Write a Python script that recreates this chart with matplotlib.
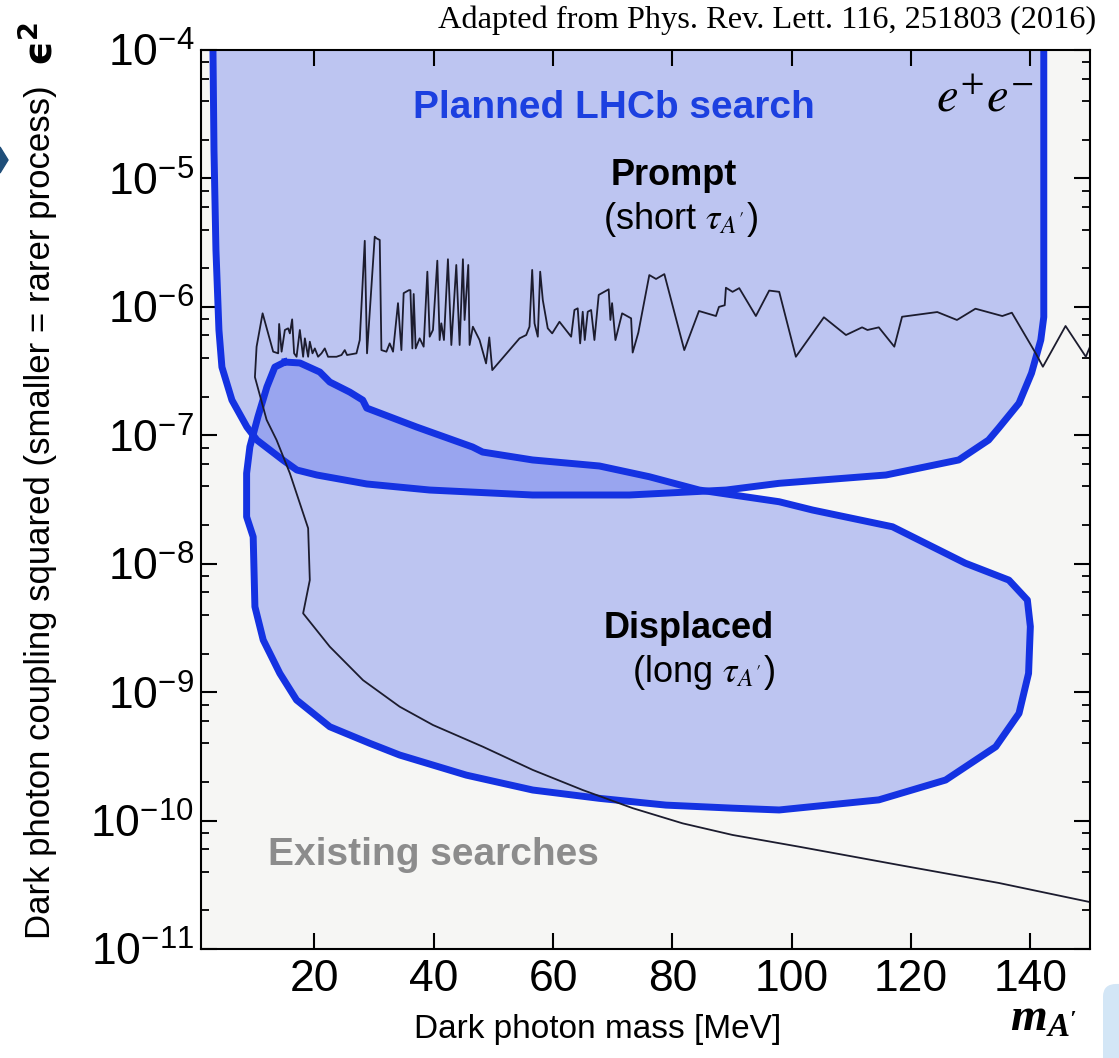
import matplotlib
matplotlib.use('Agg')
import matplotlib.pyplot as plt
from matplotlib import font_manager as fm
from matplotlib.patches import Polygon, FancyBboxPatch
from matplotlib.ticker import LogLocator, NullFormatter, NullLocator, FixedLocator, LogFormatterSciNotation


def has_font(name):
    try:
        fm.findfont(fm.FontProperties(family=name), fallback_to_default=False)
        return True
    except Exception:
        return False


SANS = 'Liberation Sans'
TICKFONT = 'Liberation Sans Narrow' if has_font('Liberation Sans Narrow') else SANS
SERIF = 'Liberation Serif'

# ---------------- data ----------------
# Existing searches boundary (lower beam-dump curve, then prompt-search limits)
existing_mass = [150.0, 134.7, 118.0, 101.25, 90.09, 81.72, 73.35, 64.98, 56.61, 48.25,
                 39.88, 34.30, 28.16, 22.59, 18.12, 19.24, 18.96, 15.90, 13.67, 12.0,
                 10.04, 10.32, 11.33, 12.26, 13.10, 13.94, 14.10, 14.51, 15.06, 15.61,
                 15.90, 16.28, 16.61, 17.02, 17.57, 18.12, 18.41, 18.96, 19.24, 19.69,
                 20.08, 20.63, 21.20, 21.75, 22.30, 23.71, 24.55, 25.10, 25.48, 27.06,
                 27.61, 28.45, 28.83, 29.57, 30.12, 30.41, 30.96, 31.24, 32.08, 32.63,
                 33.19, 34.02, 34.59, 34.97, 35.86, 36.10, 36.43, 36.65, 36.98, 37.65,
                 38.32, 38.94, 39.33, 39.88, 40.61, 41.0, 41.28, 41.72, 42.39, 42.96,
                 43.79, 44.35, 44.90, 45.18, 45.80, 46.02, 46.57, 47.69, 48.78, 49.32,
                 49.82, 54.39, 55.51, 56.06, 56.51, 56.90, 57.45, 57.85, 58.29, 59.12,
                 59.86, 61.08, 63.04, 63.59, 64.14, 64.55, 64.98, 65.32, 65.82, 66.39,
                 66.94, 67.66, 69.33, 69.62, 69.90, 70.46, 71.58, 73.09, 73.35, 74.30,
                 76.14, 77.27, 78.66, 82.0, 84.46, 87.31, 87.81, 88.78, 88.98, 90.09,
                 91.21, 94.0, 96.23, 97.91, 100.7, 105.4, 109.1, 111.8, 112.7, 114.6,
                 117.2, 118.5, 124.4, 127.7, 130.8, 135.3, 136.9, 140.9, 142.1, 145.9,
                 149.3, 150.0]
existing_eps2 = [2.32e-11, 3.27e-11, 4.51e-11, 6.26e-11, 7.73e-11, 9.52e-11, 1.25e-10, 1.73e-10, 2.48e-10, 3.76e-10,
                 5.55e-10, 7.71e-10, 1.24e-9, 2.26e-9, 4.11e-9, 7.46e-9, 1.89e-8, 5.06e-8, 9.19e-8, 1.32e-7,
                 2.84e-7, 4.90e-7, 8.91e-7, 6.22e-7, 4.48e-7, 4.35e-7, 7.36e-7, 4.48e-7, 6.61e-7, 6.81e-7,
                 6.22e-7, 8.00e-7, 4.35e-7, 4.09e-7, 6.61e-7, 4.09e-7, 5.69e-7, 4.09e-7, 5.36e-7, 4.35e-7,
                 4.75e-7, 4.09e-7, 4.35e-7, 4.75e-7, 4.09e-7, 4.09e-7, 4.22e-7, 4.61e-7, 4.22e-7, 4.35e-7,
                 5.52e-7, 3.27e-6, 4.35e-7, 1.44e-6, 3.52e-6, 3.42e-6, 3.32e-6, 4.61e-7, 4.48e-7, 5.20e-7,
                 4.48e-7, 1.07e-6, 4.61e-7, 1.28e-6, 1.35e-6, 1.35e-6, 4.75e-7, 1.26e-6, 4.75e-7, 5.69e-7,
                 4.90e-7, 1.88e-6, 5.86e-7, 6.61e-7, 2.29e-6, 5.52e-7, 7.45e-7, 5.52e-7, 2.35e-6, 5.05e-7,
                 2.12e-6, 5.05e-7, 2.35e-6, 7.91e-7, 2.12e-6, 5.05e-7, 7.01e-7, 5.52e-7, 3.63e-7, 5.79e-7,
                 3.22e-7, 5.69e-7, 6.04e-7, 7.01e-7, 1.94e-6, 7.45e-7, 5.86e-7, 1.88e-6, 1.13e-6, 6.81e-7,
                 6.22e-7, 7.66e-7, 5.86e-7, 9.46e-7, 9.75e-7, 5.20e-7, 9.17e-7, 5.52e-7, 9.17e-7, 9.46e-7,
                 5.52e-7, 1.24e-6, 1.37e-6, 7.91e-7, 1.07e-6, 5.52e-7, 8.91e-7, 8.15e-7, 4.41e-7, 6.31e-7,
                 1.77e-6, 1.65e-6, 1.80e-6, 4.61e-7, 9.29e-7, 8.49e-7, 1.00e-6, 1.03e-6, 1.41e-6, 1.31e-6,
                 1.40e-6, 8.49e-7, 1.34e-6, 1.31e-6, 4.09e-7, 8.30e-7, 6.04e-7, 6.93e-7, 6.61e-7, 6.93e-7,
                 4.90e-7, 8.38e-7, 9.12e-7, 7.91e-7, 9.68e-7, 8.49e-7, 9.01e-7, 4.35e-7, 3.42e-7, 7.10e-7,
                 4.09e-7, 4.90e-7]

# Planned LHCb prompt search region (open at top of the plot)
prompt_mass = [3.01, 3.18, 3.51, 4.01, 4.51, 6.19, 8.70, 10.37, 14.72, 17.07,
               20.41, 28.78, 39.33, 56.57, 72.80, 89.03, 97.9, 115.8, 128.0, 133.0,
               134.7, 138.1, 140.2, 141.75, 142.25, 142.25]
prompt_eps2 = [1e-4, 1.66e-5, 2.77e-6, 6.61e-7, 3.40e-7, 1.88e-7, 1.16e-7, 9.19e-8, 6.43e-8, 5.37e-8,
               4.91e-8, 4.18e-8, 3.75e-8, 3.43e-8, 3.43e-8, 3.75e-8, 4.23e-8, 4.91e-8, 6.43e-8, 9.19e-8,
               1.14e-7, 1.78e-7, 3.05e-7, 5.52e-7, 8.34e-7, 1e-4]

# Planned LHCb displaced search region (closed contour)
displaced_mass = [15.06, 17.57, 20.92, 22.59, 25.94, 28.11, 28.78, 37.15, 46.52, 48.20,
                  56.57, 67.78, 76.14, 84.51, 97.9, 103.5, 116.9, 129.1, 136.4, 139.5,
                  140.0, 139.7, 138.1, 134.2, 125.8, 114.6, 97.9, 90.09, 78.94, 67.78,
                  56.61, 45.47, 34.30, 29.28, 22.59, 17.02, 14.22, 11.43, 10.04, 9.75,
                  8.65, 8.65, 9.20, 10.54, 12.05, 13.38, 15.06]
displaced_eps2 = [3.72e-7, 3.66e-7, 3.11e-7, 2.60e-7, 2.17e-7, 1.88e-7, 1.63e-7, 1.16e-7, 8.11e-8, 7.41e-8,
                  6.43e-8, 5.77e-8, 4.76e-8, 3.75e-8, 3.04e-8, 2.62e-8, 1.94e-8, 1.01e-8, 7.46e-9, 5.22e-9,
                  3.24e-9, 1.40e-9, 6.84e-10, 3.76e-10, 2.07e-10, 1.45e-10, 1.21e-10, 1.25e-10, 1.32e-10, 1.49e-10,
                  1.73e-10, 2.26e-10, 3.24e-10, 4.00e-10, 5.38e-10, 8.69e-10, 1.40e-9, 2.55e-9, 4.63e-9, 1.62e-8,
                  2.32e-8, 5.06e-8, 8.15e-8, 1.39e-7, 2.38e-7, 3.40e-7, 3.72e-7]

x_ticks = [20, 40, 60, 80, 100, 120, 140]
y_ticks = [1e-11, 1e-10, 1e-9, 1e-8, 1e-7, 1e-6, 1e-5, 1e-4]

# ---------------- style ----------------
EDGE = '#1432e2'
FILL = '#5a6eec'
LABEL_BLUE = '#1c40e0'

plt.rcParams['font.family'] = [TICKFONT, 'DejaVu Sans']

fig = plt.figure(figsize=(11.19, 10.58), dpi=100, facecolor='white')
ax = fig.add_axes([0.1796, 0.103, 0.7945, 0.8497])
ax.set_facecolor('#f6f6f4')
ax.set_yscale('log')
ax.set_xlim(1, 150)
ax.set_ylim(1e-11, 1e-4)

ax.fill(prompt_mass, prompt_eps2, color=FILL, alpha=0.36, lw=0, zorder=1)
ax.fill(displaced_mass, displaced_eps2, color=FILL, alpha=0.36, lw=0, zorder=1)
ax.plot(prompt_mass, prompt_eps2, color=EDGE, lw=5, solid_joinstyle='round', zorder=3)
ax.plot(displaced_mass, displaced_eps2, color=EDGE, lw=5, solid_joinstyle='round', zorder=3)
ax.plot(existing_mass, existing_eps2, color='#1c1c2e', lw=1.3, zorder=4)

ax.set_xticks(x_ticks)
ax.xaxis.set_minor_locator(NullLocator())
ax.yaxis.set_major_locator(FixedLocator(y_ticks))
ax.yaxis.set_major_formatter(LogFormatterSciNotation())
ax.yaxis.set_minor_locator(LogLocator(base=10, subs=[2, 4, 6, 8], numticks=20))
ax.yaxis.set_minor_formatter(NullFormatter())
ax.tick_params(which='both', direction='in', top=True, right=True, colors='black')
ax.tick_params(which='major', length=11.5, width=1.5, labelsize=32)
ax.tick_params(axis='x', which='major', pad=7)
ax.tick_params(axis='y', which='major', pad=5)
ax.tick_params(which='minor', length=6, width=1.3)
for s in ax.spines.values():
    s.set_linewidth(1.5)
    s.set_color('black')
    s.set_zorder(5)

# annotations inside the plot
ax.text(0.464, 0.935, 'Planned LHCb search', transform=ax.transAxes, ha='center', va='center',
        fontsize=28, fontweight='bold', color=LABEL_BLUE, family=SANS)
ax.text(0.532, 0.861, 'Prompt', transform=ax.transAxes, ha='center', va='center',
        fontsize=26, fontweight='bold', color='black', family=SANS)
ax.text(0.539, 0.811, r"(short $\tau_{A'}$)", transform=ax.transAxes, ha='center', va='center',
        fontsize=26, color='black', family=SANS, math_fontfamily='stix')
ax.text(0.549, 0.357, 'Displaced', transform=ax.transAxes, ha='center', va='center',
        fontsize=26, fontweight='bold', color='black', family=SANS)
ax.text(0.565, 0.308, r"(long $\tau_{A'}$)", transform=ax.transAxes, ha='center', va='center',
        fontsize=26, color='black', family=SANS, math_fontfamily='stix')
ax.text(0.261, 0.105, 'Existing searches', transform=ax.transAxes, ha='center', va='center',
        fontsize=28, fontweight='bold', color='#8c8c8c', family=SANS)
ax.text(0.882, 0.946, r'$e^{+}e^{-}$', transform=ax.transAxes, ha='center', va='center',
        fontsize=35, color='black', math_fontfamily='stix')

# figure-level labels
fig.text(0.980, 0.981, 'Adapted from Phys. Rev. Lett. 116, 251803 (2016)', ha='right', va='center',
         family=SERIF, fontsize=23.3, color='black')
fig.text(0.534, 0.0265, 'Dark photon mass [MeV]', ha='center', va='center', fontsize=24, family=SANS)
fig.text(0.932, 0.036, r"$\mathdefault{m_{A'}}$", ha='center', va='center', fontsize=34,
         family=SERIF, fontweight='bold', fontstyle='italic')
fig.text(0.036, 0.516, 'Dark photon coupling squared (smaller = rarer process)', rotation=90,
         ha='center', va='center', fontsize=25, family=SANS)
fig.text(0.036, 0.958, r'$\mathdefault{ϵ^{2}}$', rotation=90, ha='center', va='center', fontsize=28,
         family='DejaVu Sans', fontweight='bold')

# slide decorations
fig.patches.append(Polygon([[0, 1 - 147 / 1058], [8 / 1119, 1 - 160 / 1058], [0, 1 - 173 / 1058]],
                           closed=True, transform=fig.transFigure, color='#1f4e79', zorder=0))
fig.patches.append(FancyBboxPatch((1103 / 1119, -0.02), 0.05, 0.09, boxstyle='round,pad=0,rounding_size=0.012',
                                  transform=fig.transFigure, color='#d3e6f6', lw=0, zorder=0))

fig.savefig('out.png', dpi=100, facecolor='white')
